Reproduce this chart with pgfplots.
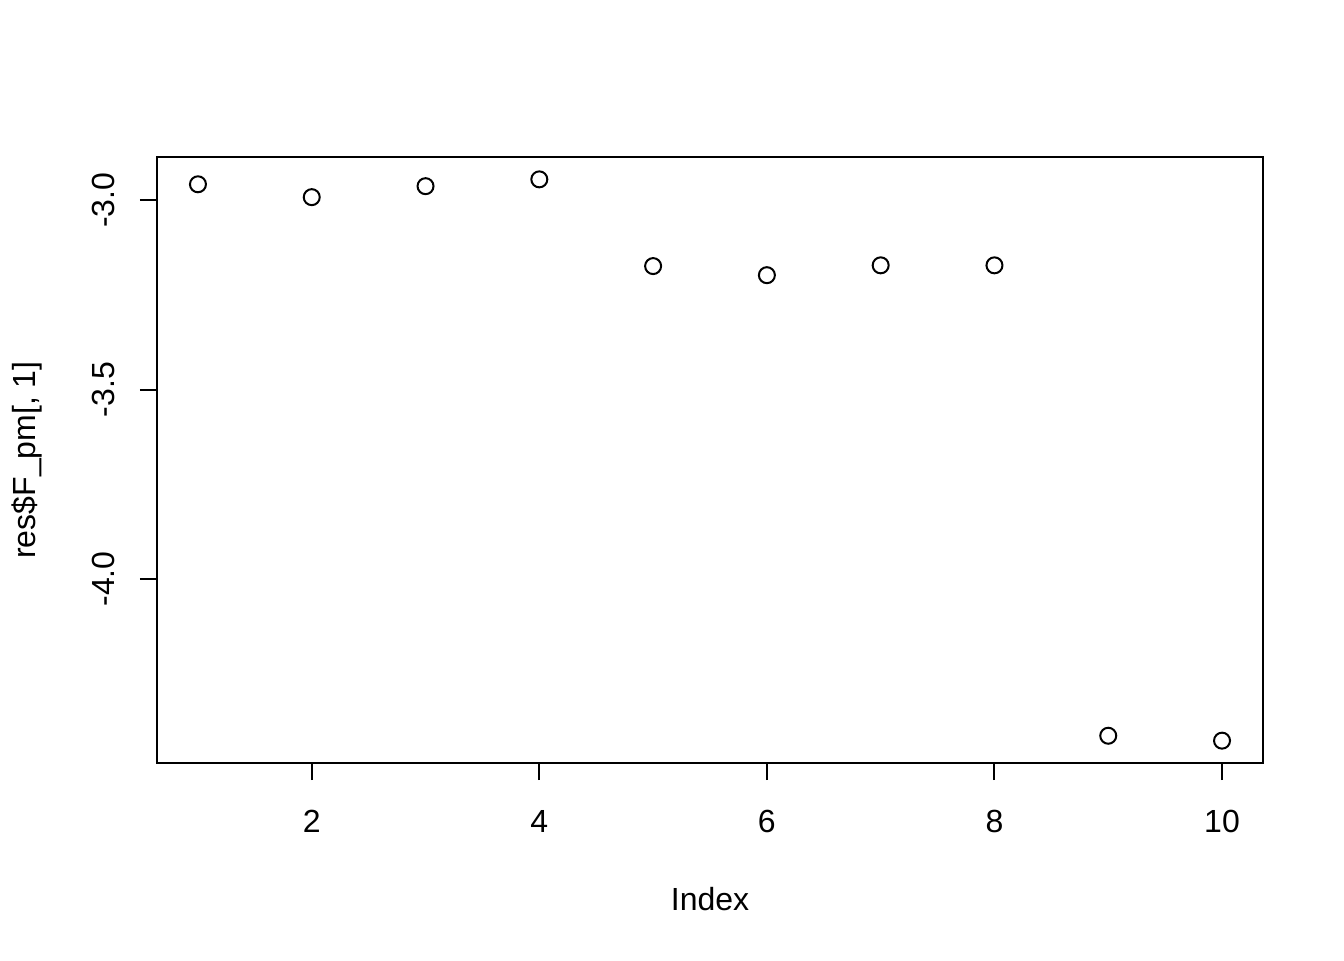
\documentclass[border=0pt]{standalone}
\usepackage{fontspec}
\setmainfont{Liberation Sans}
\usepackage{pgfplots}
\pgfplotsset{compat=1.18}
\begin{document}
\fontsize{12pt}{14.4pt}\selectfont
\begin{tikzpicture}
\useasboundingbox (0,0) rectangle (504pt,360pt);
\begin{axis}[
  at={(58.875pt,73.875pt)}, anchor=south west,
  scale only axis, width=414.75pt, height=227.25pt,
  xmin=0.64, xmax=10.36, ymin=-4.486, ymax=-2.886,
  axis line style={line width=0.75pt, black},
  xtick={2,4,6,8,10}, xticklabels={2,4,6,8,10},
  ytick={-4,-3.5,-3}, yticklabels={-4.0,-3.5,-3.0},
  tick align=outside, tick pos=left, major tick length=6.4pt,
  tick style={black, line width=0.75pt},
  tick label style={font=\fontsize{12pt}{14.4pt}\selectfont},
  xticklabel style={anchor=base, inner sep=0pt},
  xticklabel shift=19.5pt,
  yticklabel style={rotate=90, anchor=base, inner sep=0pt},
  yticklabel shift=9.4pt,
  xlabel={Index},
  ylabel={res\$F\_pm[, 1]},
  label style={font=\fontsize{12pt}{14.4pt}\selectfont},
  xlabel style={at={(axis description cs:0.5,0)}, anchor=base, yshift=-55.125pt, inner sep=0pt},
  ylabel style={at={(axis description cs:-0.1094,0.5)}, anchor=base, inner sep=0pt},
]
\addplot[only marks, mark=o, mark size=3pt, mark options={line width=0.75pt, black}] coordinates {
(1,-2.958) (2,-2.992) (3,-2.963) (4,-2.945) (5,-3.174)
(6,-3.198) (7,-3.172) (8,-3.172) (9,-4.414) (10,-4.427)
};
\end{axis}
\end{tikzpicture}
\end{document}
